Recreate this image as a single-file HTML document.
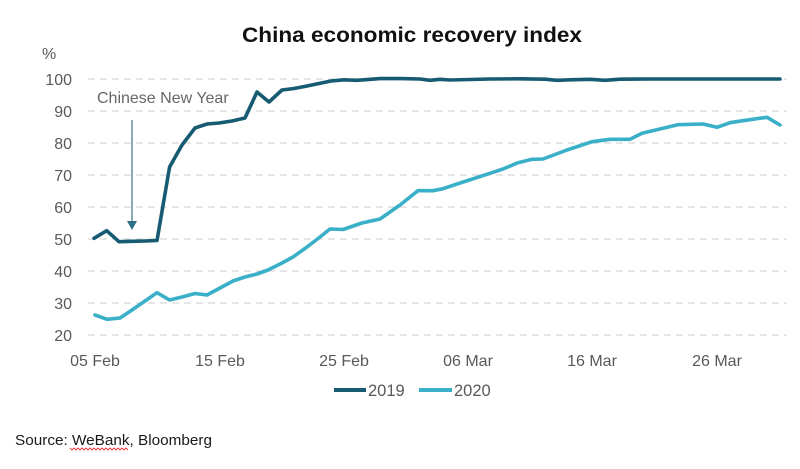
<!DOCTYPE html>
<html>
<head>
<meta charset="utf-8">
<style>
  html, body { margin: 0; padding: 0; background: #ffffff; }
  body { width: 800px; height: 469px; overflow: hidden; }
  svg { display: block; }
  text { font-family: "Liberation Sans", "DejaVu Sans", sans-serif; }
</style>
</head>
<body>
<svg width="800" height="469" viewBox="0 0 800 469" xmlns="http://www.w3.org/2000/svg">
  <rect width="800" height="469" fill="#ffffff"/>

  <!-- Title -->
  <text x="242" y="42" font-size="21" font-weight="bold" fill="#111111" textLength="340" lengthAdjust="spacingAndGlyphs">China economic recovery index</text>

  <!-- % label -->
  <text x="42" y="59" font-size="16" fill="#595959">%</text>

  <!-- Gridlines -->
  <g stroke="#d6d6d6" stroke-width="1.2" stroke-dasharray="7,5">
    <line x1="88" y1="79" x2="787" y2="79"/>
    <line x1="88" y1="111" x2="787" y2="111"/>
    <line x1="88" y1="143" x2="787" y2="143"/>
    <line x1="88" y1="175" x2="787" y2="175"/>
    <line x1="88" y1="207" x2="787" y2="207"/>
    <line x1="88" y1="239" x2="787" y2="239"/>
    <line x1="88" y1="271" x2="787" y2="271"/>
    <line x1="88" y1="303" x2="787" y2="303"/>
    <line x1="88" y1="335" x2="787" y2="335"/>
  </g>

  <!-- Y tick labels -->
  <g font-size="16" fill="#595959" text-anchor="end">
    <text x="72" y="85">100</text>
    <text x="72" y="117">90</text>
    <text x="72" y="149">80</text>
    <text x="72" y="181">70</text>
    <text x="72" y="213">60</text>
    <text x="72" y="245">50</text>
    <text x="72" y="277">40</text>
    <text x="72" y="309">30</text>
    <text x="72" y="341">20</text>
  </g>

  <!-- X tick labels -->
  <g font-size="16" fill="#595959" text-anchor="middle">
    <text x="95" y="366">05 Feb</text>
    <text x="220" y="366">15 Feb</text>
    <text x="344" y="366">25 Feb</text>
    <text x="468" y="366">06 Mar</text>
    <text x="592" y="366">16 Mar</text>
    <text x="717" y="366">26 Mar</text>
  </g>

  <!-- Annotation -->
  <text x="97" y="103" font-size="16" fill="#666666">Chinese New Year</text>
  <line x1="132" y1="120" x2="132" y2="224" stroke="#4a7f92" stroke-width="1.3"/>
  <polygon points="127,221 137,221 132,230" fill="#2f6e84"/>

  <!-- 2020 series -->
  <polyline fill="none" stroke="#3aafc8" stroke-width="3.6" stroke-linejoin="round" stroke-linecap="round"
    points="95,315 107,319.3 120,318 132,310 145,301 157,292.7 169.6,300 182,297 195,293.5 207,295 220,288 233,281 245,277 257,274 268,270 282,263 293,257 307,247 320,237 330,229 343,229.5 362,223 380,219 400,205 418,190.7 433,190.7 443,188.7 457,184 490,173.3 503,169 518,162.7 532,159.3 543,159 567,150 592,141.7 610,139.3 630,139.3 642,133.3 663,128.3 678,124.7 703,124 717,127.3 730,122.7 743,120.7 767,117.3 780,125"/>

  <!-- 2019 series -->
  <polyline fill="none" stroke="#175b72" stroke-width="3.6" stroke-linejoin="round" stroke-linecap="round"
    points="94,238.3 106.7,230.7 119,241.7 132,241.3 145,241 157,240.5 169.6,167 182,145 195,128 207,124 219,123 232,121 245,118 257,92 269,102 282,90 294,88.5 307,86 319,83.5 331,81 344,79.8 357,80.3 369,79.4 380,78.6 400,78.6 420,79 430,80.3 440,79.3 450,80 470,79.5 490,79 520,78.8 545,79.2 557,80.3 570,79.8 590,79.3 605,80.3 620,79.2 650,79 700,79 740,79 780,79"/>

  <!-- Legend -->
  <line x1="334" y1="390" x2="366" y2="390" stroke="#175b72" stroke-width="4"/>
  <text x="368" y="396" font-size="16.5" fill="#595959">2019</text>
  <line x1="419" y1="390" x2="452" y2="390" stroke="#3aafc8" stroke-width="4"/>
  <text x="454" y="396" font-size="16.5" fill="#595959">2020</text>

  <!-- Source -->
  <text x="15" y="445" font-size="15" fill="#1a1a1a" textLength="197" lengthAdjust="spacingAndGlyphs">Source: WeBank, Bloomberg</text>
  <path d="M70,448 l2,2 l2,-2 l2,2 l2,-2 l2,2 l2,-2 l2,2 l2,-2 l2,2 l2,-2 l2,2 l2,-2 l2,2 l2,-2 l2,2 l2,-2 l2,2 l2,-2 l2,2 l2,-2 l2,2 l2,-2 l2,2 l2,-2 l2,2 l2,-2 l2,2 l2,-2 l2,2" fill="none" stroke="#e03030" stroke-width="0.9"/>
</svg>
</body>
</html>
